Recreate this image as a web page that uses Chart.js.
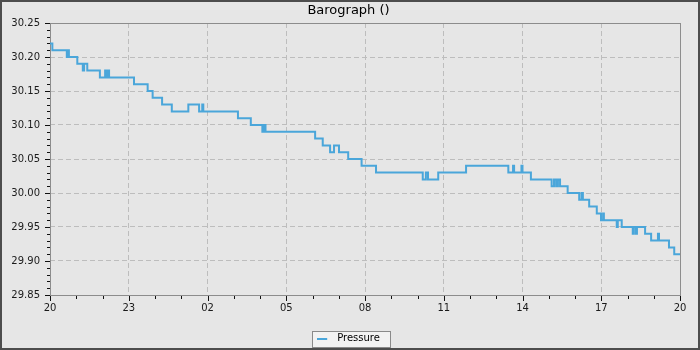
<!DOCTYPE html>
<html>
<head>
<meta charset="utf-8">
<title>Barograph</title>
<script src="https://cdn.jsdelivr.net/npm/chart.js@4/dist/chart.umd.min.js"></script>
<style>
  html, body { margin: 0; padding: 0; background: #e6e6e6; }
  #wrap {
    width: 700px; height: 350px; box-sizing: border-box;
    border: 2px solid #4d4d4d; background: #e6e6e6;
  }
  #chart { display: block; }
</style>
</head>
<body>
<div id="wrap"><canvas id="chart" width="696" height="346"></canvas></div>
<script>
// hours since 20:00, and the reading (inHg) from that moment on
const TIME_H = [
  0, 0.09, 0.64, 0.69, 0.72, 1.04, 1.25, 1.30, 1.42, 1.90,
  2.10, 2.13, 2.19, 2.25, 3.20, 3.72, 3.91, 4.27, 4.64, 5.27,
  5.68, 5.80, 5.84, 7.16, 7.65, 8.09, 8.15, 8.21, 10.10, 10.39,
  10.67, 10.82, 11.01, 11.36, 11.87, 12.42, 14.20, 14.32, 14.40, 14.79,
  15.85, 17.46, 17.64, 17.68, 17.96, 18.00, 18.32, 19.11, 19.20, 19.28,
  19.35, 19.43, 19.72, 20.16, 20.25, 20.30, 20.54, 20.83, 20.99, 21.07,
  21.10, 21.59, 21.63, 21.78, 22.20, 22.24, 22.32, 22.36, 22.67, 22.90,
  23.16, 23.20, 23.58, 23.78, 24
];
const PRESSURE = [
  30.22, 30.21, 30.20, 30.21, 30.20, 30.19, 30.18, 30.19, 30.18, 30.17,
  30.18, 30.17, 30.18, 30.17, 30.16, 30.15, 30.14, 30.13, 30.12, 30.13,
  30.12, 30.13, 30.12, 30.11, 30.10, 30.09, 30.10, 30.09, 30.08, 30.07,
  30.06, 30.07, 30.06, 30.05, 30.04, 30.03, 30.02, 30.03, 30.02, 30.03,
  30.04, 30.03, 30.04, 30.03, 30.04, 30.03, 30.02, 30.01, 30.02, 30.01,
  30.02, 30.01, 30.00, 29.99, 30.00, 29.99, 29.98, 29.97, 29.96, 29.97,
  29.96, 29.95, 29.96, 29.95, 29.94, 29.95, 29.94, 29.95, 29.94, 29.93,
  29.94, 29.93, 29.92, 29.91, 29.91
];
const X_TICK_LABELS = ["20", "23", "02", "05", "08", "11", "14", "17", "20"];

const LINE_COLOR = "#4aa6da";
const GRID_COLOR = "#bdbdbd";
const LEGEND_H = 33;

Chart.defaults.font.family = "'DejaVu Sans', sans-serif";
Chart.defaults.font.size = 10;
Chart.defaults.color = "#1a1a1a";

const isMajorY = v => Math.round(v * 100) % 5 === 0;
const isMajorX = v => Math.round(v) % 3 === 0;

// short line marker with some room after it, used as the legend symbol
const legendMark = document.createElement("canvas");
legendMark.width = 15;
legendMark.height = 2;
legendMark.getContext("2d").fillStyle = LINE_COLOR;
legendMark.getContext("2d").fillRect(0, 0, 10, 2);

// plot outline plus long/short tick marks
const frame = {
  id: "frame",
  afterInit(chart) {
    const legend = chart.legend;
    const fit = legend.fit;
    legend.fit = function () { fit.call(this); this.height = LEGEND_H; };
  },
  beforeDraw(chart) {
    const hit = chart.legend && chart.legend.legendHitBoxes[0];
    if (!hit) return;
    const ctx = chart.ctx;
    const l = Math.round(hit.left - 5) + 0.5;
    const t = Math.round(hit.top - 3) + 0.5;
    const w = Math.round(hit.width + 15);
    ctx.save();
    ctx.fillStyle = "#f2f2f2";
    ctx.strokeStyle = "#8a8a8a";
    ctx.lineWidth = 1;
    ctx.fillRect(l, t, w, 16);
    ctx.strokeRect(l, t, w, 16);
    ctx.restore();
  },
  beforeDatasetsDraw(chart) {
    const { ctx, chartArea: a, scales: { x, y } } = chart;
    ctx.save();
    ctx.lineWidth = 1;
    ctx.strokeStyle = "#8c8c8c";
    ctx.strokeRect(Math.round(a.left) + 0.5, Math.round(a.top) + 0.5,
                   Math.round(a.width), Math.round(a.height));
    ctx.strokeStyle = "#111";
    ctx.beginPath();
    y.ticks.forEach(t => {
      const py = Math.round(y.getPixelForValue(t.value)) + 0.5;
      const len = isMajorY(t.value) ? 5 : 3;
      ctx.moveTo(Math.round(a.left) - len, py);
      ctx.lineTo(Math.round(a.left), py);
    });
    x.ticks.forEach(t => {
      const px = Math.round(x.getPixelForValue(t.value)) + 0.5;
      const len = isMajorX(t.value) ? 5 : 3;
      ctx.moveTo(px, Math.round(a.bottom) + 1);
      ctx.lineTo(px, Math.round(a.bottom) + 1 + len);
    });
    ctx.stroke();
    ctx.restore();
  },
};

new Chart(document.getElementById("chart"), {
  type: "line",
  data: {
    datasets: [{
      label: "Pressure",
      data: TIME_H.map((h, i) => ({ x: h, y: PRESSURE[i] })),
      borderColor: LINE_COLOR,
      backgroundColor: LINE_COLOR,
      borderWidth: 2,
      stepped: true,
      pointRadius: 0,
      fill: false,
    }],
  },
  options: {
    responsive: false,
    animation: false,
    layout: { padding: { left: 0, right: 3, top: 0, bottom: 0 } },
    plugins: {
      title: {
        display: true,
        text: "Barograph ()",
        color: "#000",
        font: { size: 13, weight: "normal" },
        padding: { top: 1, bottom: 4.4 },
      },
      legend: {
        position: "bottom",
        labels: {
          color: "#000",
          usePointStyle: true,
          pointStyle: legendMark,
          pointStyleWidth: 15,
          padding: 18.5,
        },
      },
      tooltip: { enabled: false },
    },
    scales: {
      x: {
        type: "linear",
        min: 0, max: 24,
        afterFit: s => { s.height = 20; },
        ticks: {
          stepSize: 1, autoSkip: false, maxRotation: 0, padding: 7,
          callback: v => isMajorX(v) ? X_TICK_LABELS[Math.round(v) / 3] : "",
        },
        grid: {
          drawTicks: false,
          color: c => isMajorX(c.tick.value) ? GRID_COLOR : "transparent",
        },
        border: { display: false, dash: [5, 3] },
      },
      y: {
        min: 29.85, max: 30.25,
        afterFit: s => { s.width = 48; },
        ticks: {
          stepSize: 0.01, autoSkip: false, padding: 10,
          callback: v => isMajorY(v) ? v.toFixed(2) : "",
        },
        grid: {
          drawTicks: false,
          color: c => isMajorY(c.tick.value) ? GRID_COLOR : "transparent",
        },
        border: { display: false, dash: [5, 3] },
      },
      // empty right-hand strip, keeps the title and legend centred on the page
      yRight: {
        position: "right",
        afterFit: s => { s.width = 15; },
        ticks: { display: false },
        grid: { display: false, drawTicks: false },
        border: { display: false },
      },
    },
  },
  plugins: [frame],
});
</script>
</body>
</html>
